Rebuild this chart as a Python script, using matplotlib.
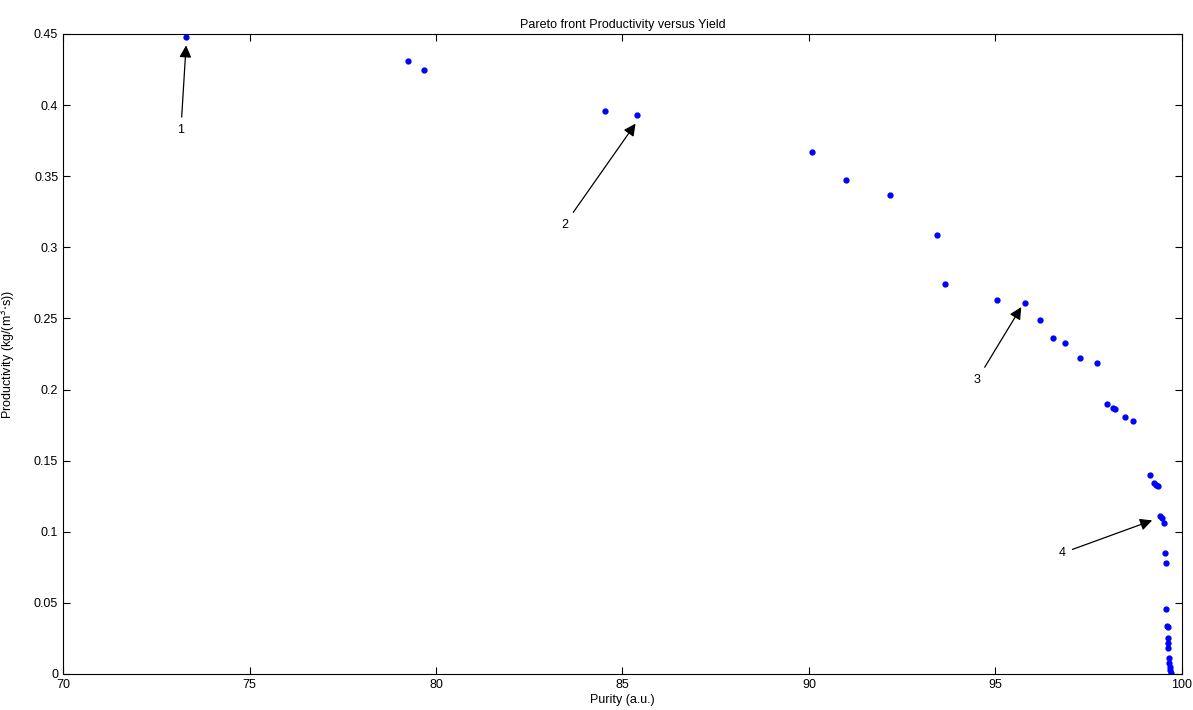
import matplotlib.pyplot as plt

purity = [73.3, 79.24, 79.67, 84.52, 85.4, 90.09, 91.0, 92.18, 93.44, 93.65,
          95.05, 95.8, 96.2, 96.55, 96.87, 97.27, 97.73,
          97.99, 98.15, 98.21, 98.48, 98.69,
          99.15, 99.26, 99.31, 99.36, 99.42, 99.47, 99.52, 99.55, 99.57,
          99.57, 99.6, 99.62, 99.62, 99.62, 99.63, 99.65, 99.66, 99.67, 99.68, 99.7]
productivity = [0.448, 0.431, 0.425, 0.396, 0.393, 0.367, 0.347, 0.337, 0.309, 0.274,
                0.263, 0.261, 0.249, 0.236, 0.233, 0.222, 0.219,
                0.190, 0.187, 0.186, 0.181, 0.178,
                0.140, 0.134, 0.133, 0.132, 0.111, 0.110, 0.106, 0.085, 0.078,
                0.046, 0.034, 0.033, 0.025, 0.022, 0.018, 0.011, 0.008, 0.005, 0.003, 0.001]

labels = ["1", "2", "3", "4"]
label_pos = [(73.16, 0.3825), (83.45, 0.316), (94.51, 0.207), (96.79, 0.085)]
arrow_tip = [(73.3, 0.442), (85.35, 0.387), (95.69, 0.258), (99.2, 0.108)]

plt.rcParams['font.family'] = ['Liberation Sans', 'DejaVu Sans']
fig = plt.figure(figsize=(11.93, 7.10), dpi=100)
ax = fig.add_axes([63/1193, 1 - 674/710, (1182-63)/1193, (674-34)/710])
ax.plot(purity, productivity, '.', color='#0000ff', markersize=7)

for lab, (tx, ty), (ax_, ay) in zip(labels, label_pos, arrow_tip):
    ax.annotate(lab, xy=(ax_, ay), xytext=(tx, ty), fontsize=9, ha='center', va='center',
                arrowprops=dict(arrowstyle='-|>', color='black', lw=0.9,
                                mutation_scale=18, shrinkA=3, shrinkB=0))

ax.set_xlim(70, 100)
ax.set_ylim(0, 0.45)
ax.set_xticks(range(70, 101, 5))
ax.set_yticks([i * 0.05 for i in range(10)])
ax.set_yticklabels(['0', '0.05', '0.1', '0.15', '0.2', '0.25', '0.3', '0.35', '0.4', '0.45'])
ax.tick_params(direction='in', top=True, right=True, labelsize=9, length=5)
ax.set_xlabel('Purity (a.u.)', fontsize=9, labelpad=2)
ax.set_ylabel('Productivity (kg/(m$^3$$\\cdot$s))', fontsize=9)
ax.yaxis.set_label_coords(-45/1119, 0.5)
ax.set_title('Pareto front Productivity versus Yield', fontsize=9, pad=4)

plt.savefig('out.png', dpi=100)
